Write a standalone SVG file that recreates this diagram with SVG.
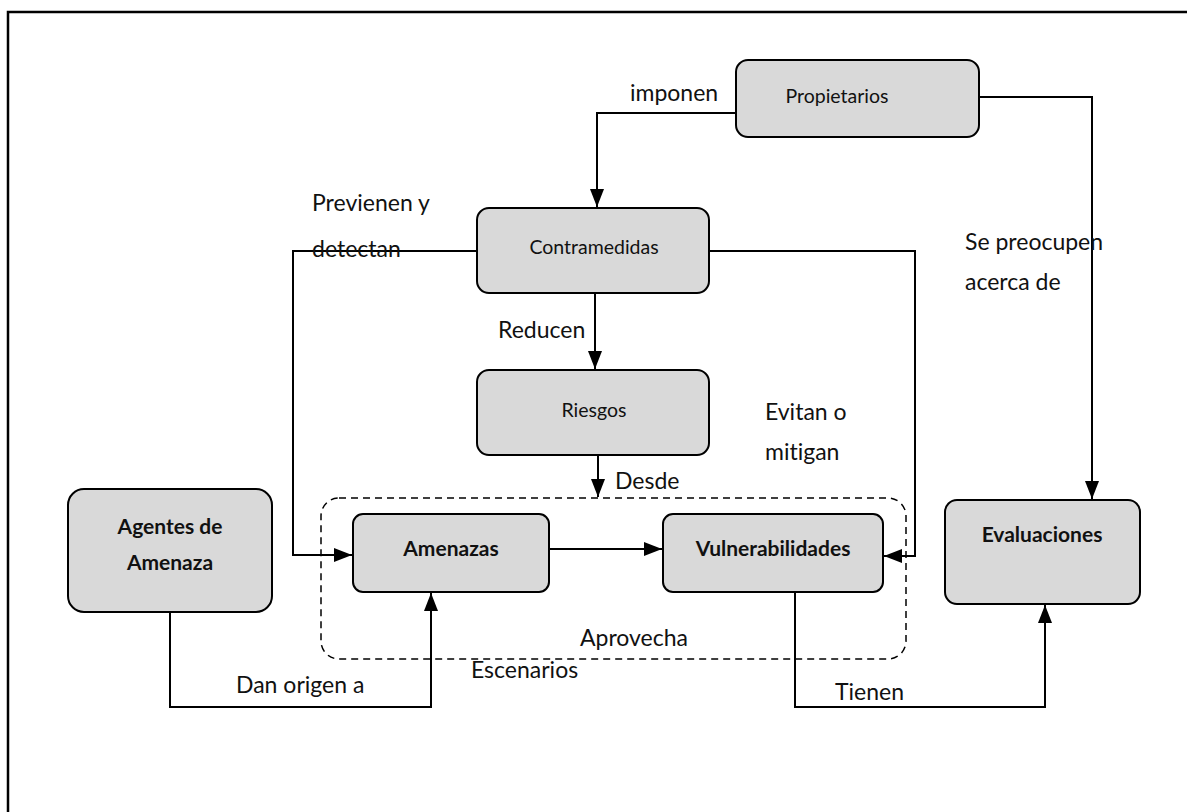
<svg xmlns="http://www.w3.org/2000/svg" width="1187" height="812" viewBox="0 0 1187 812">
  <style>
    text { font-variant-ligatures: none; }
    .node { fill: #d9d9d9; stroke: #000; stroke-width: 2; }
    .txt { font-family: "Lato", "Liberation Sans", sans-serif; font-size: 19.5px; fill: #111; text-anchor: middle; }
    .bold { font-weight: bold; font-size: 21px; }
    .lbl { font-family: "Lato", "Liberation Sans", sans-serif; font-size: 23px; fill: #111; }
    .wire { fill: none; stroke: #000; stroke-width: 2; }
    .dash { fill: none; stroke: #000; stroke-width: 1.5; stroke-dasharray: 7 5; }
  </style>
  <defs>
    <marker id="arr" viewBox="0 0 18 14" refX="18" refY="7" markerWidth="18" markerHeight="14" markerUnits="userSpaceOnUse" orient="auto">
      <path d="M0,0 L18,7 L0,14 Z" fill="#000"/>
    </marker>
  </defs>
  <rect width="1187" height="812" fill="#fff"/>
  <!-- page frame -->
  <path d="M8,812 V12 H1187" fill="none" stroke="#000" stroke-width="2.5"/>

  <!-- connectors -->
  <g id="connectors">
    <path class="wire" d="M736,113 H597 V207" marker-end="url(#arr)"/>
    <path class="wire" d="M979,97 H1092 V499" marker-end="url(#arr)"/>
    <path class="wire" d="M477,251 H293 V555 H352" marker-end="url(#arr)"/>
    <path class="wire" d="M709,251 H915 V556 H884" marker-end="url(#arr)"/>
    <path class="wire" d="M595,293 V369" marker-end="url(#arr)"/>
    <path class="wire" d="M598,455 V497" marker-end="url(#arr)"/>
    <path class="wire" d="M549,549 H662" marker-end="url(#arr)"/>
    <path class="wire" d="M170,612 V707 H431 V593" marker-end="url(#arr)"/>
    <path class="wire" d="M795,592 V707 H1045 V605" marker-end="url(#arr)"/>
  </g>

  <!-- scenario grouping -->
  <rect id="escenarios" class="dash" x="321" y="498" width="585" height="161" rx="18"/>

  <g id="propietarios">
    <rect class="node" x="736" y="60" width="243" height="77" rx="12"/>
    <text class="txt" x="837" y="103">Propietarios</text>
  </g>
  <g id="contramedidas">
    <rect class="node" x="477" y="208" width="232" height="85" rx="12"/>
    <text class="txt" x="594" y="254">Contramedidas</text>
  </g>
  <g id="riesgos">
    <rect class="node" x="477" y="370" width="232" height="85" rx="12"/>
    <text class="txt" x="594" y="417">Riesgos</text>
  </g>
  <g id="agentes">
    <rect class="node" x="68" y="489" width="204" height="123" rx="16"/>
    <text class="txt bold" x="170" y="534">Agentes de</text>
    <text class="txt bold" x="170" y="570">Amenaza</text>
  </g>
  <g id="amenazas">
    <rect class="node" x="353" y="514" width="196" height="78" rx="10"/>
    <text class="txt bold" x="451" y="556">Amenazas</text>
  </g>
  <g id="vulnerabilidades">
    <rect class="node" x="663" y="514" width="220" height="78" rx="10"/>
    <text class="txt bold" x="773" y="556">Vulnerabilidades</text>
  </g>
  <g id="evaluaciones">
    <rect class="node" x="945" y="500" width="195" height="104" rx="12"/>
    <text class="txt bold" x="1042" y="542">Evaluaciones</text>
  </g>

  <!-- relation labels -->
  <g id="labels">
    <text class="lbl" x="630" y="101">imponen</text>
    <text class="lbl" x="312" y="211">Previenen y</text>
    <text class="lbl" x="312" y="257">detectan</text>
    <text class="lbl" x="498" y="338">Reducen</text>
    <text class="lbl" x="765" y="420">Evitan o</text>
    <text class="lbl" x="765" y="460">mitigan</text>
    <text class="lbl" x="615" y="489">Desde</text>
    <text class="lbl" x="580" y="646">Aprovecha</text>
    <text class="lbl" x="471" y="678">Escenarios</text>
    <text class="lbl" x="236" y="693">Dan origen a</text>
    <text class="lbl" x="835" y="700">Tienen</text>
    <text class="lbl" x="965" y="250">Se preocupen</text>
    <text class="lbl" x="965" y="290">acerca de</text>
  </g>
</svg>
